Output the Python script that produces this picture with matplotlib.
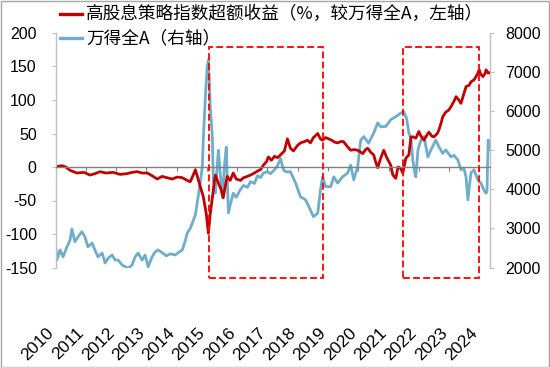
import matplotlib
matplotlib.use("Agg")
import matplotlib.pyplot as plt
from matplotlib.lines import Line2D
from matplotlib.patches import Rectangle
import matplotlib.transforms as mtransforms

# ---- data (x = years since start of 2010 as drawn on the axis) ----
red_t = [0.00, 0.08, 0.21, 0.34, 0.48, 0.71, 0.94, 1.14, 1.30, 1.47, 1.67, 1.90, 2.13, 2.36, 2.53, 2.70,
         2.86, 3.03, 3.19, 3.36, 3.52, 3.69, 3.85, 4.02, 4.19, 4.35, 4.45, 4.55, 4.62, 4.72, 4.78, 4.88,
         4.98, 5.05, 5.11, 5.18, 5.25, 5.28, 5.38, 5.48, 5.54, 5.61, 5.67, 5.77, 5.87, 5.97, 6.11, 6.21,
         6.34, 6.44, 6.57, 6.67, 6.77, 6.87, 6.97, 7.03, 7.13, 7.23, 7.33, 7.43, 7.56, 7.66, 7.76, 7.86,
         7.99, 8.09, 8.23, 8.32, 8.42, 8.52, 8.66, 8.75, 8.82, 8.92, 9.02, 9.12, 9.22, 9.32, 9.42, 9.51,
         9.65, 9.75, 9.85, 9.98, 10.08, 10.15, 10.24, 10.31, 10.41, 10.51, 10.57, 10.64, 10.74, 10.84,
         10.94, 11.07, 11.14, 11.24, 11.31, 11.40, 11.47, 11.57, 11.67, 11.74, 11.80, 11.90, 12.00, 12.07,
         12.17, 12.27, 12.33, 12.43, 12.50, 12.61, 12.66, 12.73, 12.79, 12.89, 12.99, 13.06, 13.16, 13.23,
         13.32, 13.39, 13.49, 13.56, 13.66, 13.72, 13.82, 13.89, 13.95, 13.99, 14.05, 14.12, 14.19, 14.22,
         14.29, 14.35]
red_v = [-1, 1, 2, 0, -5, -9, -8, -12, -10, -7, -9, -8, -11, -10, -8, -7,
         -9, -9, -13, -18, -14, -16, -18, -15, -16, -20, -22, -12, -4, -20, -29, -44,
         -70, -99, -70, -46, -20, -12, -24, -35, -46, -28, -14, -20, -9, -18, -20, -16,
         -14, -12, -9, -6, -4, 3, 8, 15, 10, 16, 14, 18, 24, 42, 28, 24,
         32, 36, 38, 40, 36, 44, 50, 42, 40, 44, 42, 40, 37, 36, 38, 38,
         30, 25, 26, 25, 22, 20, 26, 28, 22, 18, 8, -1, 13, 25,
         14, 3, -12, -17, 0, -2, -9, 13, 18, 45, 45, 43, 53, 46,
         40, 48, 52, 46, 45, 50, 55, 65, 75, 82, 85, 90, 98, 105,
         100, 95, 110, 120, 122, 127, 130, 135, 140, 145, 138, 135, 140, 145,
         140, 141]

blue_t = [0.00, 0.05, 0.15, 0.25, 0.38, 0.48, 0.54, 0.64, 0.74, 0.87, 0.97, 1.07, 1.21, 1.30, 1.40, 1.54,
          1.64, 1.74, 1.87, 1.97, 2.07, 2.20, 2.30, 2.40, 2.53, 2.63, 2.73, 2.86, 2.96, 3.06, 3.19, 3.29,
          3.39, 3.52, 3.66, 3.79, 3.95, 4.09, 4.19, 4.29, 4.35, 4.45, 4.52, 4.62, 4.68, 4.78, 4.85, 4.88,
          4.95, 5.01, 5.05, 5.08, 5.11, 5.18, 5.21, 5.28, 5.35, 5.38, 5.44, 5.51, 5.58, 5.64, 5.71, 5.77,
          5.87, 5.97, 6.11, 6.21, 6.34, 6.44, 6.57, 6.67, 6.77, 6.87, 7.00, 7.10, 7.23, 7.33, 7.43, 7.53,
          7.60, 7.76, 7.93, 8.09, 8.26, 8.42, 8.52, 8.66, 8.75, 8.82, 8.92, 9.09, 9.19, 9.32, 9.48, 9.65,
          9.75, 9.85, 9.98, 10.08, 10.18, 10.34, 10.51, 10.64, 10.74, 10.91, 11.07, 11.24, 11.40, 11.50,
          11.60, 11.67, 11.74, 11.80, 11.87, 11.90, 11.97, 12.00, 12.07, 12.17, 12.30, 12.40, 12.56, 12.66,
          12.79, 12.89, 13.06, 13.16, 13.29, 13.39, 13.49, 13.56, 13.62, 13.72, 13.82, 13.95, 14.05, 14.15,
          14.22, 14.25, 14.29, 14.32, 14.35]
blue_v = [2575, 2200, 2450, 2275, 2530, 2700, 2985, 2660, 2780, 2915, 2790, 2530, 2625, 2450, 2275, 2370,
          2115, 2240, 2320, 2190, 2190, 2065, 2020, 1980, 2065, 2275, 2370, 2190, 2320, 2020, 2275, 2400,
          2450, 2380, 2300, 2350, 2320, 2400, 2450, 2700, 2880, 3000, 3140, 3350, 3650, 4160, 4600, 5260,
          6370, 7140, 7310, 6800, 6115, 5350, 4240, 3900, 4700, 5000, 4400, 3800, 4600, 5080, 3400, 3600,
          3900, 3800, 4000, 4100, 4050, 4200, 4150, 4350, 4300, 4420, 4450, 4400, 4500, 4600, 4790, 4500,
          4450, 4450, 4160, 3810, 3730, 3470, 3300, 3390, 3980, 4320, 4070, 4070, 4320, 4160, 4320, 4420,
          4620, 4240, 4580, 5260, 5350, 5180, 5440, 5700, 5600, 5610, 5780, 5860, 5950, 5990,
          5800, 5440, 5300, 4750, 4400, 4320, 5000, 5090, 5260, 5350, 4830, 5010, 5260, 5090,
          4920, 5010, 4830, 4870, 4750, 4500, 4540, 4300, 3730, 4420, 4500, 4240, 4160, 3980,
          3900, 3950, 5260, 5010, 5100]

year_labels = [str(y) for y in range(2010, 2025)]
start_year = 2010
x_end = 14.35

left_ticks = [-150, -100, -50, 0, 50, 100, 150, 200]
right_ticks = [2000, 3000, 4000, 5000, 6000, 7000, 8000]

# highlighted periods (x in years since 2010 on axis, y in left-axis units)
boxes = [(5.08, 8.82), (11.47, 13.99)]
box_y = (-166, 179)

legend_labels = ["高股息策略指数超额收益（%，较万得全A，左轴）", "万得全A（右轴）"]

RED = "#C00000"
BLUE = "#6FADCB"
GRID = "#BFBFBF"

num_font = "Liberation Sans"
cjk_font = ["Noto Sans CJK SC", "DejaVu Sans"]

W, H = 550, 367
fig = plt.figure(figsize=(W / 100, H / 100), dpi=100)
ax = fig.add_axes([55.5 / W, 99.5 / H, (490 - 55.5) / W, 234.5 / H])
ax2 = ax.twinx()
ax.set_zorder(ax2.get_zorder() + 1)
ax.patch.set_visible(False)

rx = [start_year + t for t in red_t]
bx = [start_year + t for t in blue_t]

ax2.plot(bx, blue_v, color=BLUE, lw=2.0, solid_joinstyle="round")
ax.plot(rx, red_v, color=RED, lw=2.0, solid_joinstyle="round")

ax.set_xlim(start_year, start_year + x_end)
ax.set_ylim(-150, 200)
ax2.set_ylim(2000, 8000)

# spines
for s in ["top", "right"]:
    ax.spines[s].set_visible(False)
ax.spines["left"].set_color(GRID)
ax.spines["left"].set_linewidth(1.0)
ax.spines["bottom"].set_position(("data", 0))
ax.spines["bottom"].set_color("#808080")
ax.spines["bottom"].set_linewidth(1.0)
for s in ["top", "left", "bottom"]:
    ax2.spines[s].set_visible(False)
ax2.spines["right"].set_color(GRID)
ax2.spines["right"].set_linewidth(1.0)

xt = [start_year + i for i in range(len(year_labels))]
ax.set_xticks(xt)
ax.tick_params(axis="x", direction="out", length=3, color="#808080", labelbottom=False)

ax.set_yticks(left_ticks)
ax.set_yticklabels([str(v) for v in left_ticks], fontfamily=num_font, fontsize=11.5)
ax.tick_params(axis="y", direction="out", length=3, color=GRID, pad=10.5, labelcolor="black")
ax2.set_yticks(right_ticks)
ax2.set_yticklabels([str(v) for v in right_ticks], fontfamily=num_font, fontsize=11.5)
ax2.tick_params(axis="y", direction="out", length=3, color=GRID, pad=8, labelcolor="black")

# x labels (rotated, placed below plot)
trans = mtransforms.blended_transform_factory(ax.transData, ax.transAxes)
for x, lab in zip(xt, year_labels):
    ax.text(x - 0.14, -0.268, lab, transform=trans, rotation=45, ha="right", va="center",
            rotation_mode="anchor", fontfamily=num_font, fontsize=12.5, color="black", clip_on=False)

# dashed boxes
for x0, x1 in boxes:
    r = Rectangle((start_year + x0, box_y[0]), x1 - x0, box_y[1] - box_y[0], fill=False,
                  edgecolor="#FF0000", lw=1.3, linestyle=(0, (3.8, 1.8)), clip_on=False, zorder=5)
    ax.add_patch(r)

# legend
for i, (lab, col) in enumerate(zip(legend_labels, [RED, BLUE])):
    yy = 1 - (13.5 + 24.5 * i) / H
    fig.add_artist(Line2D([60 / W, 82 / W], [yy, yy], color=col, lw=2.4, transform=fig.transFigure))
    fig.text(86 / W, yy, lab, fontfamily=cjk_font, fontsize=12.7, va="center", ha="left", color="black")

# figure border
fig.add_artist(Rectangle((0.5 / W, 0.5 / H), 1 - 1.5 / W, 1 - 1.5 / H, transform=fig.transFigure,
                         fill=False, edgecolor="#A6A6A6", lw=1))

fig.savefig("out.png", dpi=100)
